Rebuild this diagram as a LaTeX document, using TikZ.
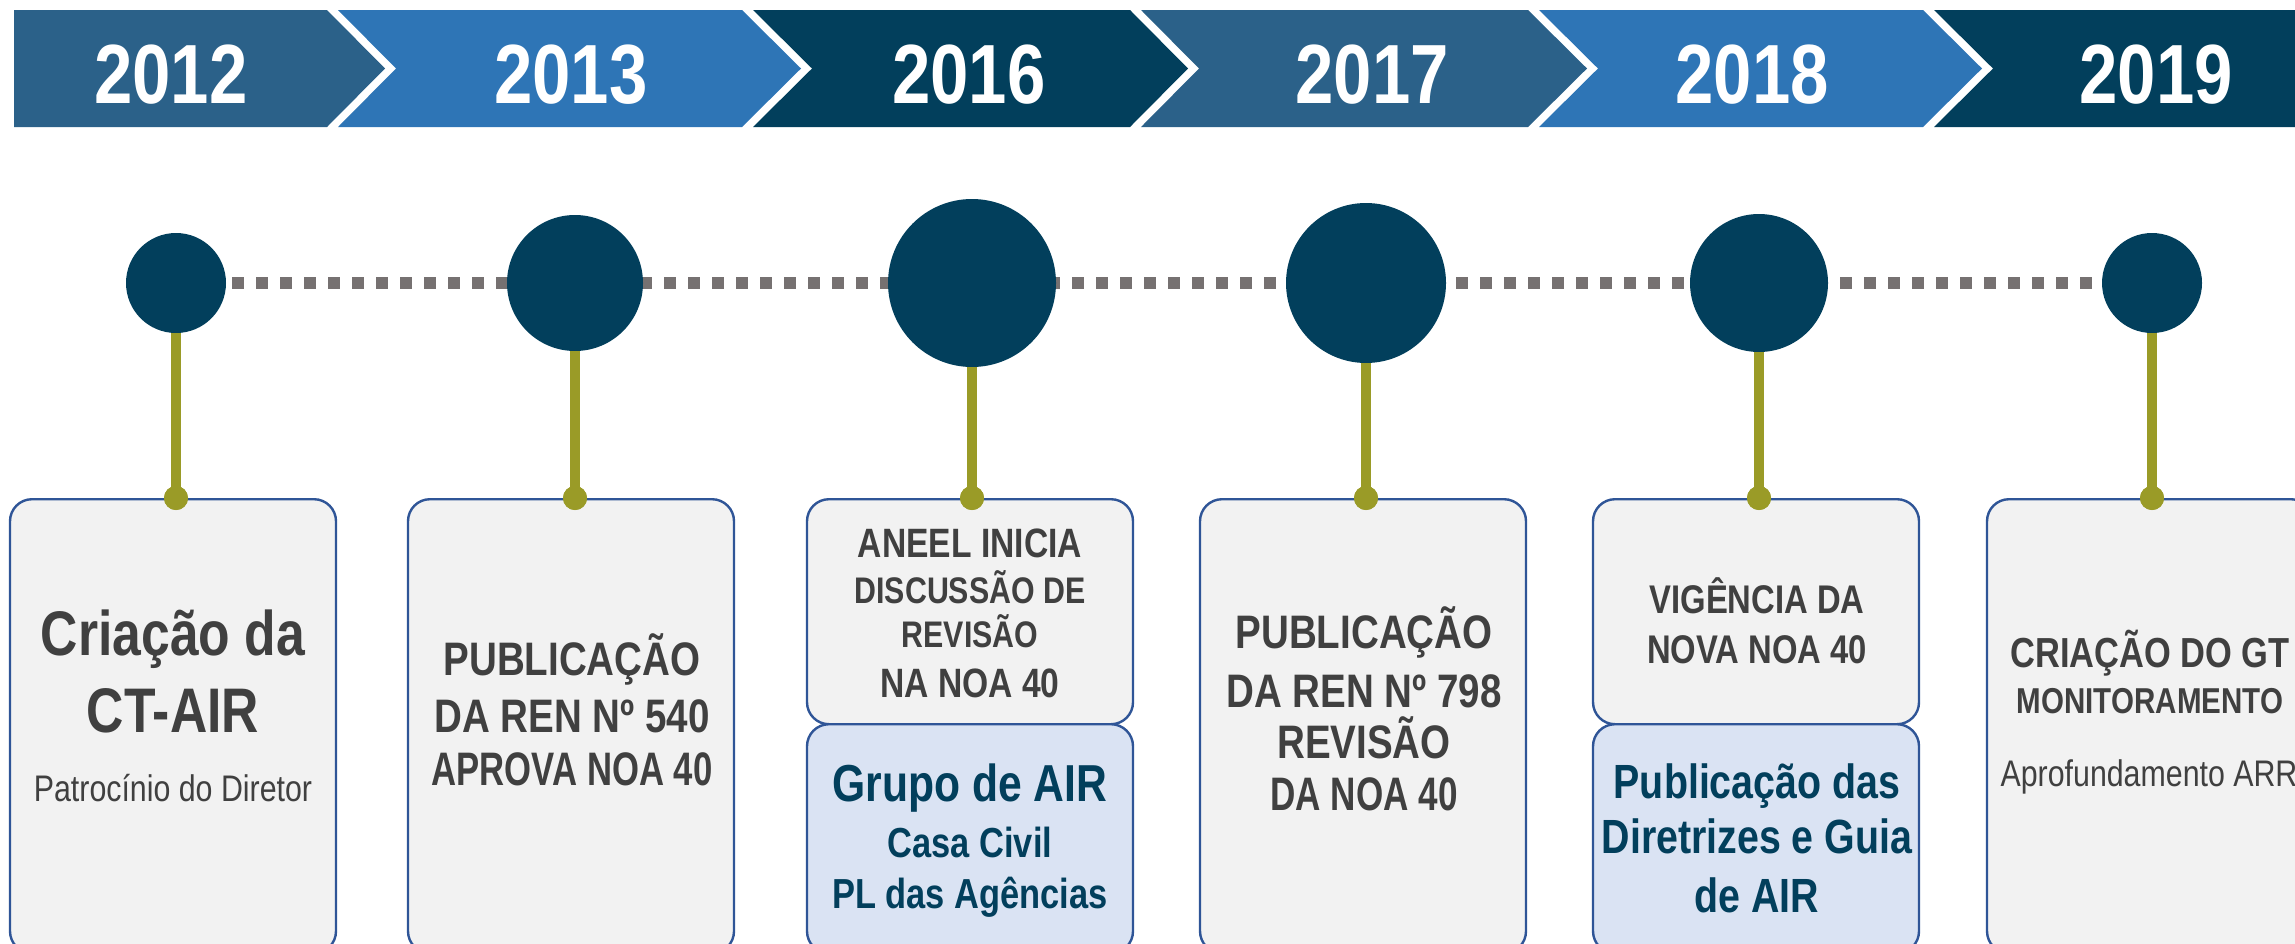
\documentclass[tikz,border=0pt]{standalone}
\usepackage{fontspec}
\usepackage{graphicx}
\setmainfont{Liberation Sans}[FakeStretch=0.82]
\usetikzlibrary{backgrounds}

\definecolor{navy}{HTML}{023F5C}
\definecolor{midblue}{HTML}{2B6189}
\definecolor{brightblue}{HTML}{2E75B6}
\definecolor{olive}{HTML}{9A9B27}
\definecolor{dotgrey}{HTML}{767171}
\definecolor{boxborder}{HTML}{2F5597}
\definecolor{boxfill}{HTML}{F2F2F2}
\definecolor{bluefill}{HTML}{DAE3F3}
\definecolor{txtgrey}{HTML}{404040}

\newcommand{\fsz}[1]{\fontsize{#1}{#1}\selectfont}

\begin{document}
\begin{tikzpicture}[x=0.5pt, y=-0.5pt]
    % Define styles
    \tikzstyle{year} = [anchor=base, inner sep=0pt, text=white, font=\bfseries\fsz{42}]
    \tikzstyle{event} = [circle, fill=navy, inner sep=0pt]
    \tikzstyle{knob} = [circle, fill=olive, inner sep=0pt, minimum size=12pt]
    \tikzstyle{stem} = [draw=olive, line width=5pt]
    \tikzstyle{track} = [draw=dotgrey, line width=6pt, dash pattern=on 5.75pt off 6.25pt]
    \tikzstyle{card} = [rectangle, rounded corners=11pt, draw=boxborder, line width=1.2pt, fill=boxfill, minimum width=163pt, anchor=north, inner sep=0pt]
    \tikzstyle{txt} = [anchor=base, inner sep=0pt, text=txtgrey, font=\bfseries]
    \tikzstyle{bluetxt} = [anchor=base, inner sep=0pt, text=navy, font=\bfseries]

    \useasboundingbox (0,0) rectangle (2295,943);

    % Year band
    \fill[midblue] (14,10) -- (327,10) -- (385,68.5) -- (327,127) -- (14,127) -- cycle;
    \fill[brightblue] (338,10) -- (742,10) -- (801,68.5) -- (742,127) -- (338,127) -- (396,68.5) -- cycle;
    \fill[navy] (753,10) -- (1130,10) -- (1188,68.5) -- (1130,127) -- (753,127) -- (812,68.5) -- cycle;
    \fill[midblue] (1141,10) -- (1528,10) -- (1587,68.5) -- (1528,127) -- (1141,127) -- (1199,68.5) -- cycle;
    \fill[brightblue] (1539,10) -- (1923,10) -- (1982,68.5) -- (1923,127) -- (1539,127) -- (1598,68.5) -- cycle;
    \fill[navy] (1934,10) -- (2300,10) -- (2300,127) -- (1934,127) -- (1993,68.5) -- cycle;

    \node[year] (y2012) at (171,103) {2012};
    \node[year] (y2013) at (571,103) {2013};
    \node[year] (y2016) at (969,103) {2016};
    \node[year] (y2017) at (1372,103) {2017};
    \node[year] (y2018) at (1752,103) {2018};
    \node[year] (y2019) at (2156,103) {2019};

    % Milestones
    \node[event, minimum size=50pt] (c2012) at (176,283) {};
    \node[event, minimum size=68pt] (c2013) at (575,283) {};
    \node[event, minimum size=84pt] (c2016) at (972,283) {};
    \node[event, minimum size=80pt] (c2017) at (1366,283) {};
    \node[event, minimum size=69pt] (c2018) at (1759,283) {};
    \node[event, minimum size=50pt] (c2019) at (2152,283) {};

    \begin{scope}[on background layer]
        \draw[track] ([xshift=3pt]c2012.east) -- (c2019.west);
    \end{scope}

    % Cards
    \node[card, minimum height=227pt] (b2012) at (173,498) {};
    \node[card, minimum height=227pt] (b2013) at (571,498) {};
    \node[card, minimum height=112.5pt] (b2016) at (970,498) {};
    \node[card, fill=bluefill, minimum height=114.5pt] (g2016) at (970,723) {};
    \node[card, minimum height=227pt] (b2017) at (1363,498) {};
    \node[card, minimum height=112.5pt] (b2018) at (1756,498) {};
    \node[card, fill=bluefill, minimum height=114.5pt] (g2018) at (1756,723) {};
    \node[card, minimum height=227pt] (b2019) at (2150,498) {};

    % Stems
    \node[knob] (k2012) at (176,498) {};
    \node[knob] (k2013) at (575,498) {};
    \node[knob] (k2016) at (972,498) {};
    \node[knob] (k2017) at (1366,498) {};
    \node[knob] (k2018) at (1759,498) {};
    \node[knob] (k2019) at (2152,498) {};
    \draw[stem] (c2012.south) -- (k2012.center);
    \draw[stem] (c2013.south) -- (k2013.center);
    \draw[stem] (c2016.south) -- (k2016.center);
    \draw[stem] (c2017.south) -- (k2017.center);
    \draw[stem] (c2018.south) -- (k2018.center);
    \draw[stem] (c2019.south) -- (k2019.center);
    \fill[olive] (k2012) circle (6pt) (k2013) circle (6pt) (k2016) circle (6pt)
                 (k2017) circle (6pt) (k2018) circle (6pt) (k2019) circle (6pt);

    % Card texts
    \node[txt, font=\bfseries\fsz{31.5}] (t2012a) at (173,655) {Criação da};
    \node[txt, font=\bfseries\fsz{31.5}] (t2012b) at (173,732) {CT-AIR};
    \node[txt, font=\fsz{18.5}] (t2012c) at (173,801) {Patrocínio do Diretor};

    \node[txt, font=\bfseries\fsz{23.5}] (t2013a) at (572,675) {PUBLICAÇÃO};
    \node[txt, font=\bfseries\fsz{23.5}] (t2013b) at (572,732) {DA REN Nº 540};
    \node[txt, font=\bfseries\fsz{23.5}] (t2013c) at (572,785) {\scalebox{0.9}[1]{APROVA NOA 40}};

    \node[txt, font=\bfseries\fsz{20.5}] (t2016a) at (970,557) {ANEEL INICIA};
    \node[txt, font=\bfseries\fsz{18.5}] (t2016b) at (970,603) {DISCUSSÃO DE};
    \node[txt, font=\bfseries\fsz{18.5}] (t2016c) at (970,647) {REVISÃO};
    \node[txt, font=\bfseries\fsz{20.5}] (t2016d) at (970,697) {NA NOA 40};
    \node[bluetxt, font=\bfseries\fsz{26}] (g2016a) at (970,801) {Grupo de AIR};
    \node[bluetxt, font=\bfseries\fsz{21}] (g2016b) at (970,857) {Casa Civil};
    \node[bluetxt, font=\bfseries\fsz{21}] (g2016c) at (970,908) {PL das Agências};

    \node[txt, font=\bfseries\fsz{23.5}] (t2017a) at (1364,648) {PUBLICAÇÃO};
    \node[txt, font=\bfseries\fsz{23.5}] (t2017b) at (1364,707) {DA REN Nº 798};
    \node[txt, font=\bfseries\fsz{23.5}] (t2017c) at (1364,758) {REVISÃO};
    \node[txt, font=\bfseries\fsz{23.5}] (t2017d) at (1364,810) {\scalebox{0.91}[1]{DA NOA 40}};

    \node[txt, font=\bfseries\fsz{20}] (t2018a) at (1757,613) {VIGÊNCIA DA};
    \node[txt, font=\bfseries\fsz{20}] (t2018b) at (1757,663) {NOVA NOA 40};
    \node[bluetxt, font=\bfseries\fsz{24}] (g2018a) at (1757,798) {Publicação das};
    \node[bluetxt, font=\bfseries\fsz{24}] (g2018b) at (1757,853) {Diretrizes e Guia};
    \node[bluetxt, font=\bfseries\fsz{24}] (g2018c) at (1757,912) {de AIR};

    \node[txt, font=\bfseries\fsz{21}] (t2019a) at (2150,667) {CRIAÇÃO DO GT};
    \node[txt, font=\bfseries\fsz{18}] (t2019b) at (2150,713) {MONITORAMENTO};
    \node[txt, font=\fsz{18.5}] (t2019c) at (2149,786) {Aprofundamento ARR};
\end{tikzpicture}
\end{document}
